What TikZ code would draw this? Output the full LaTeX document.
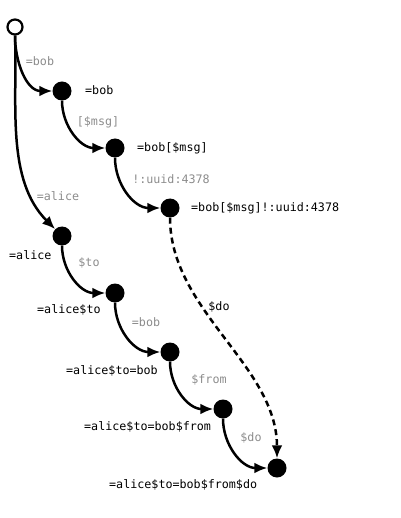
\documentclass[tikz,border=0pt]{standalone}
\usepackage{fontspec}
\setmonofont{DejaVu Sans Mono}
\usetikzlibrary{arrows.meta}
\begin{document}
\begin{tikzpicture}[x=1pt,y=-1pt,
  dot/.style={circle,fill=black,inner sep=0pt,minimum size=19pt},
  rootdot/.style={circle,draw=black,fill=white,line width=2.2pt,inner sep=0pt,minimum size=15pt},
  nlabel/.style={font=\ttfamily\fontsize{11.7}{12}\selectfont,text=black,anchor=west,inner sep=0pt},
  elabel/.style={font=\ttfamily\fontsize{11.7}{12}\selectfont,text=black!45,inner sep=0pt},
  edge/.style={line width=2.5pt,-{Latex[length=13pt,width=11pt]}},
  dedge/.style={edge,dash pattern=on 6pt off 4pt}]
\useasboundingbox (0,0) rectangle (400,518);
\node[rootdot] (r) at (15,27) {};
\node[dot] (b) at (62,91) {};
\node[dot] (bm) at (115,148) {};
\node[dot] (bmu) at (170,208) {};
\node[dot] (a) at (62,236) {};
\node[dot] (at) at (115,293) {};
\node[dot] (atb) at (170,352) {};
\node[dot] (atbf) at (223,409) {};
\node[dot] (atbfd) at (277,468) {};

\node[nlabel] (lb) at (85,90) {=bob};
\node[nlabel] (lbm) at (137,148) {=bob[\$msg]};
\node[nlabel] (lbmu) at (191,208) {=bob[\$msg]!:uuid:4378};
\node[nlabel] (la) at (9,255) {=alice};
\node[nlabel] (lat) at (37,310) {=alice\$to};
\node[nlabel] (latb) at (66,371) {=alice\$to=bob};
\node[nlabel] (latbf) at (84,427) {=alice\$to=bob\$from};
\node[nlabel] (latbfd) at (109,485) {=alice\$to=bob\$from\$do};

\draw[edge] (r.south) to[out=-90,in=180] (b.west);
\draw[edge] (b.south) to[out=-90,in=180] (bm.west);
\draw[edge] (bm.south) to[out=-90,in=180] (bmu.west);
\draw[edge] (r.south) to[out=-88,in=135,looseness=0.9] (a.north west);
\draw[edge] (a.south) to[out=-90,in=180] (at.west);
\draw[edge] (at.south) to[out=-90,in=180] (atb.west);
\draw[edge] (atb.south) to[out=-90,in=180] (atbf.west);
\draw[edge] (atbf.south) to[out=-90,in=180] (atbfd.west);
\draw[dedge] (bmu.south) to[out=-90,in=90,looseness=0.9] (atbfd.north);

\node[elabel] (e1) at (40,61) {=bob};
\node[elabel] (e2) at (98,122) {[\$msg]};
\node[elabel] (e3) at (171,179) {!:uuid:4378};
\node[elabel] (e4) at (58,196) {=alice};
\node[elabel] (e5) at (89,263) {\$to};
\node[elabel] (e6) at (146,322) {=bob};
\node[elabel] (e7) at (209,380) {\$from};
\node[elabel] (e8) at (251,438) {\$do};
\node[elabel,text=black] (e9) at (219,307) {\$do};
\end{tikzpicture}
\end{document}
